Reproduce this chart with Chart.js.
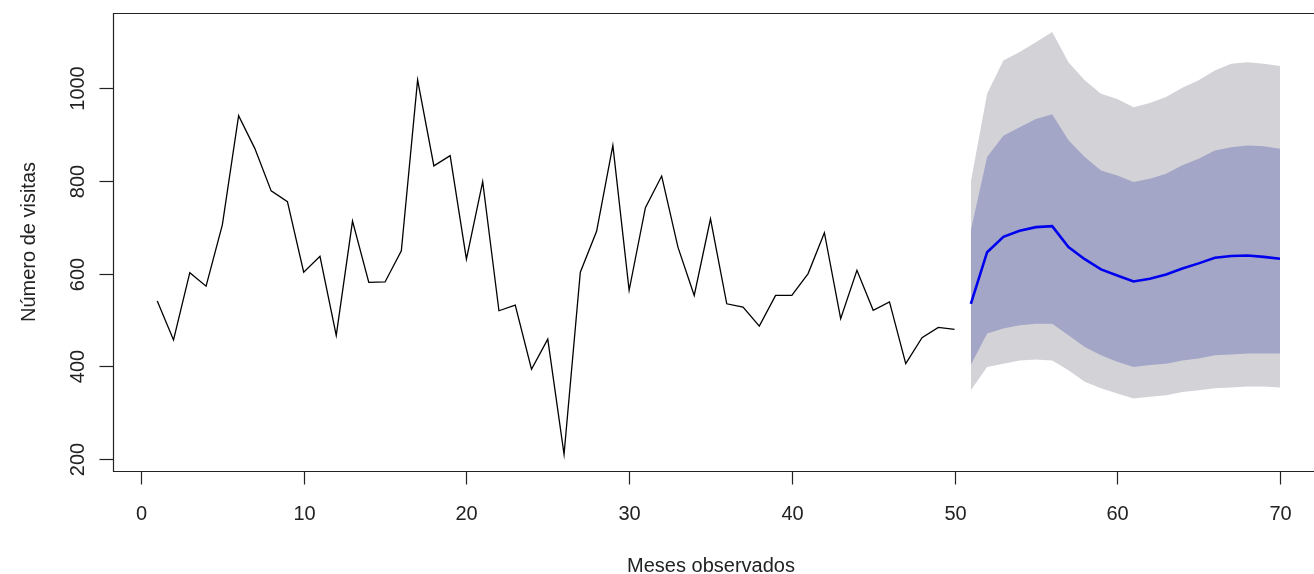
<!DOCTYPE html>
<html>
<head>
<meta charset="utf-8">
<script src="https://cdn.jsdelivr.net/npm/chart.js@4.4.1/dist/chart.umd.min.js"></script>
<style>
  html, body { margin: 0; padding: 0; background: #fff; overflow: hidden; }
  #wrap { width: 1314px; height: 574px; position: relative; }
</style>
</head>
<body>
<div id="wrap"><canvas id="forecastChart"></canvas></div>
<script>
// serie observada (meses 1-50)
const visitas = [541, 457, 602, 573, 705, 940, 869, 778, 755, 603,
                 637, 467, 713, 581, 582, 649, 1017, 832, 854, 631,
                 798, 520, 532, 394, 459, 211, 603, 691, 876, 564,
                 742, 810, 657, 553, 718, 535, 528, 487, 553, 553,
                 600, 688, 503, 607, 521, 539, 406, 462, 484, 480];
// pronostico (meses 51-70)
const pronostico = [535, 646, 679, 692, 700, 702, 657, 631, 609, 596,
                    583, 589, 598, 611, 622, 634, 638, 639, 636, 632];
const lo80 = [403, 471, 482, 489, 492, 492, 467, 442, 424, 410,
              399, 403, 406, 413, 417, 424, 426, 428, 428, 428];
const hi80 = [693, 851, 897, 915, 933, 943, 887, 851, 822, 811,
              797, 804, 815, 833, 847, 865, 872, 876, 874, 869];
const lo95 = [349, 399, 406, 413, 415, 413, 392, 367, 353, 342,
              331, 335, 338, 345, 349, 353, 355, 357, 357, 355];
const hi95 = [797, 987, 1059, 1077, 1098, 1120, 1055, 1016, 987, 976,
              958, 967, 980, 1000, 1016, 1037, 1052, 1055, 1052, 1047];

const xTicks = [0, 10, 20, 30, 40, 50, 60, 70];
const yTicks = [200, 400, 600, 800, 1000];

const firstObs = 1;
const firstFc = visitas.length + 1;
const toPts = (arr, start) => arr.map((v, i) => ({ x: start + i, y: v }));

const FONT = '"Liberation Sans", Arial, Helvetica, sans-serif';

// ejes estilo R: caja, marcas y etiquetas
const rAxes = {
    id: 'rAxes',
    afterDraw(chart) {
        const ctx = chart.ctx;
        const a = chart.chartArea;
        const xs = chart.scales.x;
        const ys = chart.scales.y;
        ctx.save();
        ctx.strokeStyle = '#222';
        ctx.lineWidth = 1.2;
        ctx.beginPath();
        const L = Math.round(a.left) + 0.5, T = Math.round(a.top) + 0.5, B = Math.round(a.bottom) + 0.5;
        ctx.moveTo(chart.width, T);
        ctx.lineTo(L, T);
        ctx.lineTo(L, B);
        ctx.lineTo(chart.width, B);
        ctx.stroke();

        ctx.fillStyle = '#222';
        ctx.font = '20px ' + FONT;
        ctx.textAlign = 'center';
        ctx.textBaseline = 'alphabetic';
        xTicks.forEach(t => {
            const px = Math.round(xs.getPixelForValue(t)) + 0.5;
            ctx.beginPath();
            ctx.moveTo(px, B);
            ctx.lineTo(px, B + 13);
            ctx.stroke();
            ctx.fillText(String(t), px, B + 48);
        });
        yTicks.forEach(t => {
            const py = Math.round(ys.getPixelForValue(t)) + 0.5;
            ctx.beginPath();
            ctx.moveTo(L, py);
            ctx.lineTo(L - 14, py);
            ctx.stroke();
            ctx.save();
            ctx.translate(L - 30, py);
            ctx.rotate(-Math.PI / 2);
            ctx.fillText(String(t), 0, 0);
            ctx.restore();
        });

        // titulos
        ctx.fillText('Meses observados', 711, 572);
        ctx.save();
        ctx.translate(35, (a.top + a.bottom) / 2);
        ctx.rotate(-Math.PI / 2);
        ctx.fillText('Número de visitas', 0, 0);
        ctx.restore();
        ctx.restore();
    }
};

const ctx = document.getElementById('forecastChart').getContext('2d');
const chart = new Chart(ctx, {
    type: 'line',
    plugins: [rAxes],
    data: {
        datasets: [
            {
                data: toPts(visitas, firstObs),
                borderColor: '#000',
                borderWidth: 1.3,
                pointRadius: 0,
                fill: false,
            },
            {
                data: toPts(pronostico, firstFc),
                borderColor: '#0000ee',
                borderWidth: 2.6,
                pointRadius: 0,
                fill: false,
            },
            {
                data: toPts(hi80, firstFc),
                borderWidth: 0,
                borderColor: 'rgba(0,0,0,0)',
                backgroundColor: '#a3a6c6',
                pointRadius: 0,
                fill: '+1',
            },
            {
                data: toPts(lo80, firstFc),
                borderWidth: 0,
                borderColor: 'rgba(0,0,0,0)',
                pointRadius: 0,
                fill: false,
            },
            {
                data: toPts(hi95, firstFc),
                borderWidth: 0,
                borderColor: 'rgba(0,0,0,0)',
                backgroundColor: '#d2d2d7',
                pointRadius: 0,
                fill: '+1',
            },
            {
                data: toPts(lo95, firstFc),
                borderWidth: 0,
                borderColor: 'rgba(0,0,0,0)',
                pointRadius: 0,
                fill: false,
            },
        ],
    },
    options: {
        responsive: true,
        maintainAspectRatio: false,
        animation: false,
        elements: { line: { tension: 0 } },
        layout: {
            padding: { left: 113, top: 13, right: 0, bottom: 103 }
        },
        scales: {
            x: { type: 'linear', display: false, min: -1.72, max: 72.09 },
            y: { type: 'linear', display: false, min: 175, max: 1161 },
        },
        plugins: {
            legend: { display: false },
            tooltip: { enabled: false },
        },
    },
});
</script>
</body>
</html>
